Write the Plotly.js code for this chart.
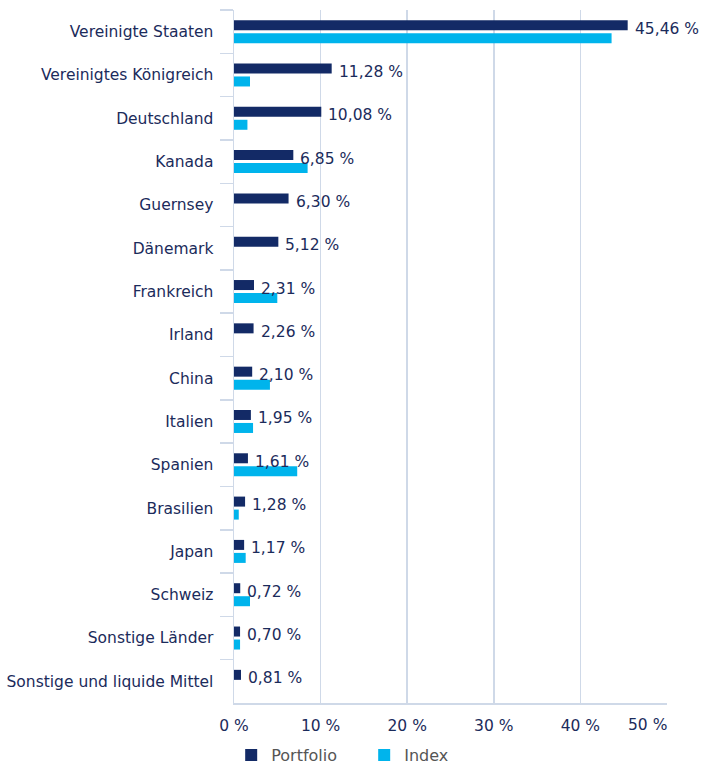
<!DOCTYPE html>
<html>
<head>
<meta charset="utf-8">
<script src="https://cdn.plot.ly/plotly-3.0.1.min.js"></script>
<style>html,body{margin:0;padding:0;background:#fff;}#chart{width:701px;height:765px;}</style>
</head>
<body>
<div id="chart"></div>
<script>
const categories = ["Vereinigte Staaten","Vereinigtes Königreich","Deutschland","Kanada","Guernsey","Dänemark","Frankreich","Irland","China","Italien","Spanien","Brasilien","Japan","Schweiz","Sonstige Länder","Sonstige und liquide Mittel"];
const portfolio = [45.46,11.28,10.08,6.85,6.30,5.12,2.31,2.26,2.10,1.95,1.61,1.28,1.17,0.72,0.70,0.81];
const indexVals = [43.6,1.85,1.55,8.5,0,0,5.0,0,4.15,2.2,7.3,0.55,1.35,1.85,0.7,0];
const xTicks = [0,10,20,30,40,50];

const navy = "#132a66", cyan = "#00b4ec", grid = "#cfd9e8", textCol = "#1b2b5b";
const FS = 15.5;
const fmt = v => v.toFixed(2).replace('.', ',') + ' %';

const traces = [
  {type:'bar', orientation:'h', name:'Portfolio', y:categories, x:portfolio, marker:{color:navy}, hoverinfo:'none'},
  {type:'bar', orientation:'h', name:'Index', y:categories, x:indexVals, marker:{color:cyan}, hoverinfo:'none'}
];

const annotations = categories.map((c,i)=>({
  x: portfolio[i], y: c, xref:'x', yref:'y', text: fmt(portfolio[i]), showarrow:false,
  xanchor:'left', yanchor:'middle', xshift:5, yshift:3,
  font:{family:'DejaVu Sans', size:FS, color:textCol}
}));
annotations.push({
  x: xTicks[xTicks.length-1], y:0, xref:'x', yref:'paper', text: xTicks[xTicks.length-1] + ' %',
  showarrow:false, xanchor:'right', yanchor:'middle', yshift:-22, xshift:2,
  font:{family:'DejaVu Sans', size:FS, color:textCol}
});

const layout = {
  width:701, height:765,
  margin:{l:234, r:34, t:10, b:62, autoexpand:false},
  paper_bgcolor:'#fff', plot_bgcolor:'#fff',
  font:{family:'DejaVu Sans', size:FS, color:textCol},
  barmode:'group', bargap:0.4, bargroupgap:0.23,
  xaxis:{
    range:[0,50], tickvals:xTicks,
    ticktext:xTicks.map((t,i)=> i===xTicks.length-1 ? '' : t + ' %'),
    showgrid:true, gridcolor:grid, gridwidth:1.5,
    zeroline:false, showline:true, linecolor:grid, linewidth:1.5,
    ticks:'', ticklabelstandoff:8, fixedrange:true, automargin:false,
    tickfont:{family:'DejaVu Sans', size:FS, color:textCol}
  },
  yaxis:{
    type:'category', autorange:'reversed',
    showgrid:false, zeroline:false,
    showline:true, linecolor:grid, linewidth:1.5,
    ticks:'outside', tickson:'boundaries', ticklen:13, tickcolor:grid, tickwidth:1.5,
    ticklabelstandoff:16, fixedrange:true, automargin:false,
    tickfont:{family:'DejaVu Sans', size:FS, color:textCol}
  },
  showlegend:true,
  legend:{orientation:'h', x:-0.0065, xanchor:'left', y:-0.075, yanchor:'middle',
    font:{family:'DejaVu Sans', size:16, color:'#555555'}, itemwidth:30,
    entrywidth:88, entrywidthmode:'pixels', traceorder:'normal'},
  annotations: annotations
};

Plotly.newPlot('chart', traces, layout, {displayModeBar:false, staticPlot:true});
</script>
</body>
</html>
